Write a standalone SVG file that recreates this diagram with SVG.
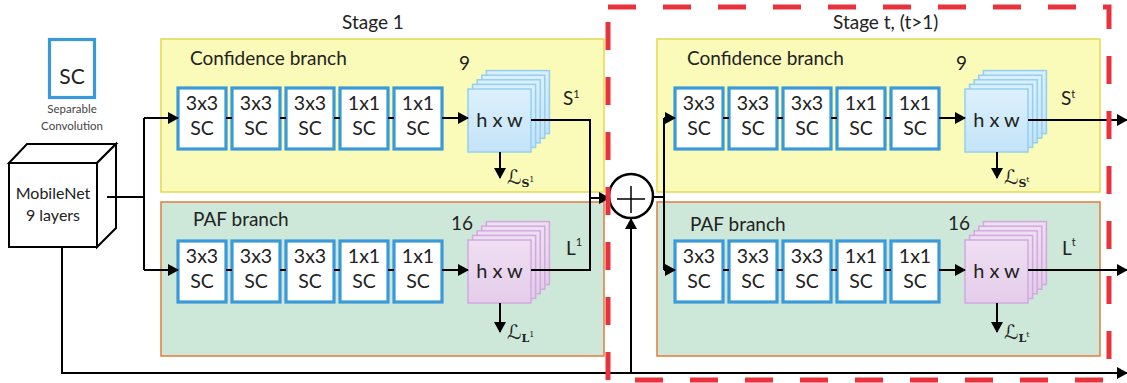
<svg xmlns="http://www.w3.org/2000/svg" xmlns:xlink="http://www.w3.org/1999/xlink" width="1127" height="383" viewBox="0 0 1127 383">
<style>
text{font-family:Lato,"Open Sans","Liberation Sans",sans-serif;fill:#222}
.t17{font-size:19px}
.cvt{font-size:19.5px}
.ctr{text-anchor:middle}
.conv{fill:#fff;stroke:#3a9ad9;stroke-width:3.2}
.ln{fill:none;stroke:#000;stroke-width:2}
.ar{fill:none;stroke:#000;stroke-width:2;marker-end:url(#ah)}
.conf{fill:#fafab9;stroke:#e6d94f;stroke-width:1.5}
.paf{fill:#cde8d9;stroke:#e07c3c;stroke-width:1.5}
.sb{fill:url(#gb);stroke:#93cff2;stroke-width:1.5}
.sp{fill:url(#gp);stroke:#d2a9df;stroke-width:1.5}
.loss{font-family:"DejaVu Sans","DejaVu Serif",serif;font-size:20px;font-style:normal}
.sub{font-family:"DejaVu Serif","Liberation Serif",serif;font-weight:bold;font-style:normal;font-size:11px}
.sup{font-family:"DejaVu Serif","Liberation Serif",serif;font-style:normal;font-size:8px}
</style>
<defs>
<marker id="ah" markerUnits="userSpaceOnUse" markerWidth="12" markerHeight="12" refX="10" refY="6" orient="auto">
<path d="M0,0 L11,6 L0,12 Z" fill="#000"/>
</marker>
<linearGradient id="gb" x1="0" y1="0" x2="0" y2="1"><stop offset="0" stop-color="#dcf0fc"/><stop offset="1" stop-color="#c4e4f8"/></linearGradient>
<linearGradient id="gp" x1="0" y1="0" x2="0" y2="1"><stop offset="0" stop-color="#efdff2"/><stop offset="1" stop-color="#e4cdea"/></linearGradient>
<g id="stackB">
<rect class="sb" x="18.4" y="-18.4" width="63" height="63"/>
<rect class="sb" x="13.8" y="-13.8" width="63" height="63"/>
<rect class="sb" x="9.2" y="-9.2" width="63" height="63"/>
<rect class="sb" x="4.6" y="-4.6" width="63" height="63"/>
<rect class="sb" x="0" y="0" width="63" height="63"/>
<text x="31.5" y="38" class="ctr" style="font-size:20px">h x w</text>
</g>
<g id="stackP">
<rect class="sp" x="18.4" y="-18.4" width="63" height="63"/>
<rect class="sp" x="13.8" y="-13.8" width="63" height="63"/>
<rect class="sp" x="9.2" y="-9.2" width="63" height="63"/>
<rect class="sp" x="4.6" y="-4.6" width="63" height="63"/>
<rect class="sp" x="0" y="0" width="63" height="63"/>
<text x="31.5" y="38" class="ctr" style="font-size:20px">h x w</text>
</g>
<g id="cv33"><rect class="conv" x="-24" y="0" width="48" height="61"/><text class="cvt ctr" x="0" y="22">3x3</text><text class="cvt ctr" x="0" y="47">SC</text></g>
<g id="cv11"><rect class="conv" x="-24" y="0" width="48" height="61"/><text class="cvt ctr" x="0" y="22">1x1</text><text class="cvt ctr" x="0" y="47">SC</text></g>
</defs>

<g id="legend">
<rect class="conv" x="49.5" y="39.5" width="45" height="58"/>
<text x="72" y="84" class="ctr" style="font-size:21px">SC</text>
<text x="72" y="113" class="ctr" style="font-size:11.5px;fill:#444">Separable</text>
<text x="72" y="130" class="ctr" style="font-size:11.5px;fill:#444">Convolution</text>
</g>

<g id="mobilenet">
<polygon points="9,163 27,144 116,144 97,163" fill="#fff" stroke="#000" stroke-width="2"/>
<polygon points="97,163 116,144 116,228 97,247" fill="#fff" stroke="#000" stroke-width="2"/>
<rect x="9" y="163" width="88" height="84" fill="#fff" stroke="#000" stroke-width="2"/>
<text x="53" y="199" class="ctr" style="font-size:16px">MobileNet</text>
<text x="53" y="221" class="ctr" style="font-size:16px">9 layers</text>
</g>

<g id="stage-labels">
<text x="373" y="29" class="t17 ctr">Stage 1</text>
<text x="833" y="29" class="t17">Stage t, (t&gt;1)</text>
</g>

<g id="stage1-conf">
<rect class="conf" x="161" y="39" width="443" height="153"/>
<text x="190" y="65" class="t17">Confidence branch</text>
<use xlink:href="#cv33" x="202" y="88"/>
<use xlink:href="#cv33" x="256" y="88"/>
<use xlink:href="#cv33" x="310" y="88"/>
<use xlink:href="#cv11" x="364" y="88"/>
<use xlink:href="#cv11" x="418" y="88"/>
<use xlink:href="#stackB" x="468" y="89"/>
<text x="459" y="70" class="t17">9</text>
<text x="563" y="105" class="t17">S<tspan style="font-size:11px" dy="-7">1</tspan></text>
<text x="507" y="184" class="loss">ℒ<tspan class="sub" dy="3">S</tspan><tspan class="sup" dy="-5">1</tspan></text>
</g>

<g id="stage1-paf">
<rect class="paf" x="161" y="202" width="443" height="154"/>
<text x="193" y="226" class="t17">PAF branch</text>
<use xlink:href="#cv33" x="202" y="241"/>
<use xlink:href="#cv33" x="256" y="241"/>
<use xlink:href="#cv33" x="310" y="241"/>
<use xlink:href="#cv11" x="364" y="241"/>
<use xlink:href="#cv11" x="418" y="241"/>
<use xlink:href="#stackP" x="468" y="240"/>
<text x="451" y="230" class="t17">16</text>
<text x="566" y="255" class="t17">L<tspan style="font-size:11px" dy="-9">1</tspan></text>
<text x="507" y="339" class="loss">ℒ<tspan class="sub" dy="3">L</tspan><tspan class="sup" dy="-5">1</tspan></text>
</g>

<g id="staget-conf">
<rect class="conf" x="657" y="39" width="443" height="153"/>
<text x="687" y="65" class="t17">Confidence branch</text>
<use xlink:href="#cv33" x="699" y="88"/>
<use xlink:href="#cv33" x="753" y="88"/>
<use xlink:href="#cv33" x="807" y="88"/>
<use xlink:href="#cv11" x="861" y="88"/>
<use xlink:href="#cv11" x="915" y="88"/>
<use xlink:href="#stackB" x="965" y="89"/>
<text x="956" y="70" class="t17">9</text>
<text x="1061" y="105" class="t17">S<tspan style="font-size:11px" dy="-7">t</tspan></text>
<text x="1004" y="184" class="loss">ℒ<tspan class="sub" dy="3">S</tspan><tspan class="sup" dy="-5">t</tspan></text>
</g>

<g id="staget-paf">
<rect class="paf" x="657" y="202" width="443" height="154"/>
<text x="690" y="231" class="t17">PAF branch</text>
<use xlink:href="#cv33" x="699" y="241"/>
<use xlink:href="#cv33" x="753" y="241"/>
<use xlink:href="#cv33" x="807" y="241"/>
<use xlink:href="#cv11" x="861" y="241"/>
<use xlink:href="#cv11" x="915" y="241"/>
<use xlink:href="#stackP" x="965" y="240"/>
<text x="948" y="230" class="t17">16</text>
<text x="1062" y="255" class="t17">L<tspan style="font-size:11px" dy="-9">t</tspan></text>
<text x="1004" y="339" class="loss">ℒ<tspan class="sub" dy="3">L</tspan><tspan class="sup" dy="-5">t</tspan></text>
</g>

<g id="connectors">
<path class="ln" d="M107,197 H144 M144,118 V270"/>
<path class="ar" d="M144,118 H178"/>
<path class="ar" d="M144,270 H178"/>
<path class="ln" d="M226,118 H232 M280,118 H286 M334,118 H340 M388,118 H394"/>
<path class="ln" d="M226,270 H232 M280,270 H286 M334,270 H340 M388,270 H394"/>
<path class="ar" d="M442,118 H468"/>
<path class="ar" d="M442,270 H468"/>
<path class="ln" d="M723,118 H729 M777,118 H783 M831,118 H837 M885,118 H891"/>
<path class="ln" d="M723,270 H729 M777,270 H783 M831,270 H837 M885,270 H891"/>
<path class="ar" d="M939,118 H965"/>
<path class="ar" d="M939,270 H965"/>
<path class="ar" d="M500,152 V178"/>
<path class="ar" d="M500,303 V332"/>
<path class="ar" d="M997,152 V178"/>
<path class="ar" d="M997,303 V332"/>
<path class="ln" d="M531,120 H590 V198"/>
<path class="ln" d="M531,270 H590 V198"/>
<path class="ar" d="M590,198 H609"/>
<path class="ln" d="M653,197 H664 M664,118 V270"/>
<path class="ar" d="M664,118 H675"/>
<path class="ar" d="M664,270 H675"/>
<path class="ar" d="M1028,120 H1127"/>
<path class="ar" d="M1028,270 H1127"/>
<path class="ar" d="M62,247 V373 H1127"/>
<path class="ar" d="M631,373 V219"/>
</g>

<g id="plus">
<circle cx="631" cy="196" r="22" fill="#fff" stroke="#000" stroke-width="2.5"/>
<path d="M617,199 H645 M631,186 V213" stroke="#000" stroke-width="1.5"/>
</g>

<g id="stage-t-frame">
<rect x="608" y="7" width="501" height="373" fill="none" stroke="#e8323c" stroke-width="5" stroke-dasharray="28 27"/>
</g>
</svg>
